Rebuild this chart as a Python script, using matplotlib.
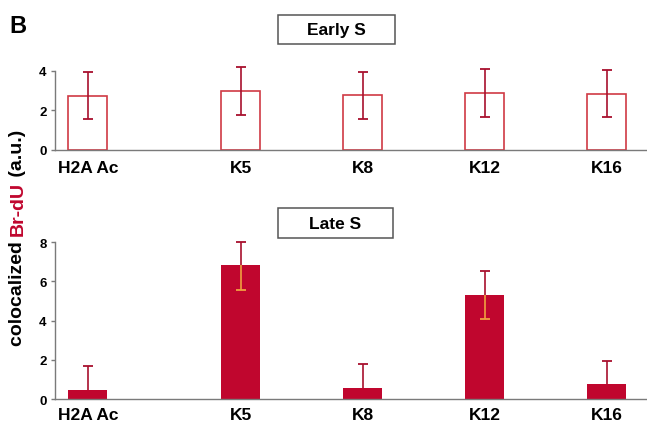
import numpy as np
import matplotlib
matplotlib.use("Agg")
import matplotlib.pyplot as plt
from matplotlib.patches import Rectangle

# data
labels = ["H2A Ac", "K5", "K8", "K12", "K16"]
xpos = [0, 1.25, 2.25, 3.25, 4.25]

early = [2.75, 2.97, 2.77, 2.88, 2.85]
early_err = [1.2, 1.22, 1.2, 1.2, 1.2]

late = [0.45, 6.84, 0.55, 5.33, 0.75]
late_err_up = [1.25, 1.16, 1.24, 1.22, 1.21]
late_err_dn = [0, 1.26, 0, 1.24, 0]

RED = "#c0062e"
DARKRED = "#a8102e"
ORANGE = "#f0a040"
GREY = "#7a7a7a"

plt.rcParams['font.family'] = ['Liberation Sans', 'DejaVu Sans']
plt.rcParams['font.weight'] = 'bold'

fig = plt.figure(figsize=(6.47, 4.27), dpi=100)
ax1 = fig.add_axes([0.085, 0.6464, 0.915, 0.185])
ax2 = fig.add_axes([0.085, 0.0632, 0.915, 0.367])

x = np.array(xpos)
w = 0.32


def errbar(ax, xs, y0, y1, col):
    # draw only the non-zero error segments with a cap at the far end
    for xi, a, b in zip(xs, y0, y1):
        if abs(b - a) < 1e-9:
            continue
        ax.vlines(xi, a, b, color=col, lw=1.2, zorder=3, clip_on=False)
        ax.plot([xi], [b], marker="_", ms=7, mew=1.3, color=col, zorder=3, clip_on=False)


# Early S: open bars
e = np.array(early)
ee = np.array(early_err)
ax1.bar(x, e, w, facecolor="white", edgecolor="#d03a44", linewidth=1.2, zorder=2)
errbar(ax1, x, e, e + ee, DARKRED)
errbar(ax1, x, e, e - ee, DARKRED)
ax1.set_ylim(0, 4)
ax1.set_yticks([0, 2, 4])

# Late S: filled bars
l = np.array(late)
ax2.bar(x, l, w, color=RED, zorder=2)
errbar(ax2, x, l, l + np.array(late_err_up), DARKRED)
errbar(ax2, x, l, l - np.array(late_err_dn), ORANGE)
ax2.set_ylim(0, 8)
ax2.set_yticks([0, 2, 4, 6, 8])

for ax, p in ((ax1, 7), (ax2, 6)):
    ax.set_xlim(-0.27, 4.58)
    ax.set_xticks(x)
    ax.set_xticklabels(labels, fontsize=12.5, fontweight='bold')
    ax.tick_params(axis='x', length=0, pad=p)
    ax.tick_params(axis='y', length=3, width=1, color=GREY, labelsize=9.5, pad=3)
    for s in ("top", "right"):
        ax.spines[s].set_visible(False)
    for s in ("left", "bottom"):
        ax.spines[s].set_color(GREY)
        ax.spines[s].set_linewidth(1)

# panel title boxes
fig.patches.append(Rectangle((0.4297, 0.8946), 0.1808, 0.0679, transform=fig.transFigure,
                             facecolor="white", edgecolor="#555555", lw=1.1))
fig.patches.append(Rectangle((0.4297, 0.4403), 0.1777, 0.0703, transform=fig.transFigure,
                             facecolor="white", edgecolor="#555555", lw=1.1))
fig.text(0.520, 0.928, "Early S", ha="center", va="center", fontsize=12.5, fontweight="bold")
fig.text(0.5185, 0.475, "Late S", ha="center", va="center", fontsize=12.5, fontweight="bold")

fig.text(0.015, 0.939, "B", fontsize=17, fontweight="bold", ha="left", va="center")

# y label in pieces, middle piece red
parts = [("colocalized ", "black"), ("Br-dU", RED), (" (a.u.)", "black")]
fig.canvas.draw()
r = fig.canvas.get_renderer()
ypix = 427 - 346
for txt, col in parts:
    t = fig.text(18 / 647, ypix / 427, txt, rotation=90, rotation_mode="anchor",
                 ha="left", va="center", fontsize=14, fontweight="bold", color=col)
    bb = t.get_window_extent(renderer=r)
    ypix = bb.y1

fig.savefig("out.png", dpi=100)
